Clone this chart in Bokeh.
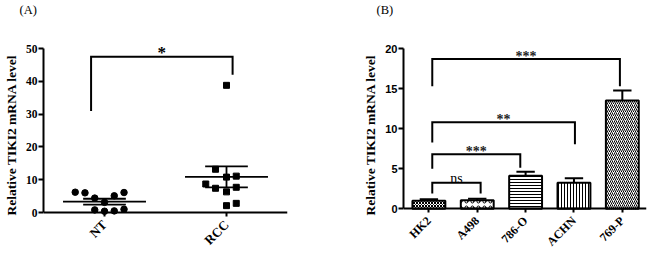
import numpy as np
from bokeh.plotting import figure
from bokeh.layouts import row
from bokeh.models import Range1d, FixedTicker, Title
from bokeh.core.properties import value
from bokeh.embed import file_html
from bokeh.resources import INLINE

# ---------------- Panel A data ----------------
groups_a = ["NT", "RCC"]
nt_values = [6.2, 6.0, 4.4, 3.1, 5.1, 6.1, 0.8, 0.4, 0.5, 1.0]
nt_jitter = [-0.24, -0.16, -0.08, 0.0, 0.08, 0.16, -0.08, 0.0, 0.08, 0.16]
rcc_values = [38.8, 13.2, 10.8, 11.1, 8.7, 7.4, 6.3, 7.7, 2.1, 2.8]
rcc_jitter = [0.0, -0.09, 0.0, 0.08, -0.17, -0.09, 0.0, 0.08, 0.0, 0.08]
group_means = [3.3, 10.9]
group_sems = [0.9, 3.2]
a_yticks = [0, 10, 20, 30, 40, 50]
# significance bracket (left x, right x, top, left bottom, right bottom, label)
a_bracket = (-0.11, 1.05, 47.5, 31.0, 42.0, "*")

# ---------------- Panel B data ----------------
cells_b = ["HK2", "A498", "786-O", "ACHN", "769-P"]
cell_means = [1.0, 1.05, 4.1, 3.25, 13.5]
cell_sems = [0.17, 0.2, 0.5, 0.55, 1.25]
b_yticks = [0, 5, 10, 15, 20]
cell_hatch = ["x", "o", "-", "|", "/"]
cell_hatch_scale = [3, 6, 3, 3, 4]
b_br_left = [0.07, 0.07, 0.07, 0.07]
b_br_right = [1.07, 1.89, 3.02, 3.95]
b_br_top = [3.25, 6.8, 10.8, 18.7]
b_br_lbot = [1.9, 5.0, 8.25, 15.3]
b_br_rbot = [1.9, 5.1, 8.05, 15.3]
b_br_labels = ["ns", "***", "**", "***"]

SERIF = "Liberation Serif"
SANS = "Liberation Sans"
YLABEL = "Relative TIKI2 mRNA level"


def style_axes(p, ytick_font, ytick_size, xtick_size, ymax_tick):
    p.grid.visible = False
    p.outline_line_color = None
    for ax in (p.xaxis[0], p.yaxis[0]):
        ax.axis_line_width = 2
        ax.axis_line_color = "black"
        ax.major_tick_line_width = 2
        ax.major_tick_line_color = "black"
        ax.major_tick_in = 0
        ax.minor_tick_line_color = None
        ax.major_label_text_color = "black"
        ax.axis_label_text_color = "black"
    p.yaxis[0].major_tick_out = 5
    p.yaxis[0].major_label_standoff = 1
    p.yaxis[0].major_label_text_font = ytick_font
    p.yaxis[0].major_label_text_font_size = ytick_size
    p.yaxis[0].major_label_text_font_style = "bold"
    p.yaxis[0].axis_label = YLABEL
    p.yaxis[0].axis_label_text_font = SERIF
    p.yaxis[0].axis_label_text_font_style = "bold"
    p.yaxis[0].axis_label_text_font_size = "13.5px"
    p.yaxis[0].axis_label_standoff = 4
    p.yaxis[0].bounds = (0, ymax_tick)
    # x axis drawn at y = 0 inside an extended frame
    p.xaxis[0].fixed_location = 0
    p.xaxis[0].major_tick_out = 4
    p.xaxis[0].major_label_orientation = np.pi / 4
    p.xaxis[0].major_label_text_font = SERIF
    p.xaxis[0].major_label_text_font_style = "bold"
    p.xaxis[0].major_label_text_font_size = xtick_size
    p.xaxis[0].major_label_standoff = 6


def add_panel_title(p, text, offset):
    t = Title(text=text, align="left", offset=offset, text_font=SERIF, text_color="black",
              text_font_style="normal", text_font_size="12.5px", standoff=0)
    p.add_layout(t, "above")


# ---------------- Panel A ----------------
# frame spans 16..253 px; y = 0 sits at 212 px, y = 50 at 48 px
pa = figure(width=325, height=253, x_range=Range1d(-0.5, 1.5), y_range=Range1d(-12.5, 59.8),
            output_backend="svg", toolbar_location=None,
            min_border_left=39, min_border_right=38, min_border_top=16, min_border_bottom=0)
style_axes(pa, SERIF, "11.5px", "13px", a_yticks[-1])
pa.yaxis[0].ticker = FixedTicker(ticks=a_yticks)
xa = list(range(len(groups_a)))
pa.xaxis[0].ticker = FixedTicker(ticks=xa)
pa.xaxis[0].major_label_overrides = {i: g for i, g in enumerate(groups_a)}
add_panel_title(pa, "(A)", -24)

pa.scatter([xa[0] + j for j in nt_jitter], nt_values, marker="circle", size=6.5,
           fill_color="black", line_color="black")
pa.scatter([xa[1] + j for j in rcc_jitter], rcc_values, marker="square", size=6,
           fill_color="black", line_color="black")
# mean lines and SEM
for i, (m, s) in enumerate(zip(group_means, group_sems)):
    pa.segment(x0=[xa[i] - 0.34], y0=[m], x1=[xa[i] + 0.34], y1=[m], line_color="black", line_width=1.8)
    pa.segment(x0=[xa[i] - 0.175, xa[i] - 0.175, xa[i]], y0=[m + s, m - s, m - s],
               x1=[xa[i] + 0.175, xa[i] + 0.175, xa[i]], y1=[m + s, m - s, m + s],
               line_color="black", line_width=1.8)
bl, br, bt, blb, brb, blab = a_bracket
pa.line([bl, bl, br, br], [blb, bt, bt, brb], line_color="black", line_width=2, line_join="miter")
pa.text(x=[(bl + br) / 2], y=[bt], text=[blab], text_align="center", text_baseline="bottom",
        text_font=value(SERIF), text_font_style="bold", text_font_size="17px",
        text_color="black", y_offset=5)

# ---------------- Panel B ----------------
# frame spans 16..253 px; y = 0 sits at 208 px, y = 20 at 48 px
pb = figure(width=325, height=253, x_range=Range1d(-0.525, 4.5), y_range=Range1d(-5.6, 24.0),
            output_backend="svg", toolbar_location=None,
            min_border_left=78, min_border_right=4, min_border_top=16, min_border_bottom=0)
style_axes(pb, SANS, "11px", "12px", b_yticks[-1])
pb.yaxis[0].ticker = FixedTicker(ticks=b_yticks)
xb = list(range(len(cells_b)))
pb.xaxis[0].ticker = FixedTicker(ticks=xb)
pb.xaxis[0].major_label_overrides = {i: c for i, c in enumerate(cells_b)}
add_panel_title(pb, "(B)", -27)

for i in xb:
    pb.vbar(x=[xb[i]], top=[cell_means[i]], bottom=0, width=0.68, fill_color="white",
            line_color="black", line_width=2, hatch_pattern=cell_hatch[i],
            hatch_scale=cell_hatch_scale[i], hatch_weight=1, hatch_color="black")
tops = [m + s for m, s in zip(cell_means, cell_sems)]
pb.segment(x0=xb, y0=cell_means, x1=xb, y1=tops, line_color="black", line_width=2)
pb.segment(x0=[x - 0.19 for x in xb], y0=tops, x1=[x + 0.19 for x in xb], y1=tops,
           line_color="black", line_width=2)
for l, r, t, lb, rb, lab in zip(b_br_left, b_br_right, b_br_top, b_br_lbot, b_br_rbot, b_br_labels):
    pb.line([l, l, r, r], [lb, t, t, rb], line_color="black", line_width=2, line_join="miter")
    if lab == "ns":
        pb.text(x=[(l + r) / 2], y=[t], text=[lab], text_align="center", text_baseline="alphabetic",
                text_font=value(SERIF), text_font_size="14px", text_color="black", y_offset=-4)
    else:
        pb.text(x=[(l + r) / 2], y=[t], text=[lab], text_align="center", text_baseline="bottom",
                text_font=value(SERIF), text_font_style="bold", text_font_size="14px",
                text_color="#222222", y_offset=5)

layout = row(pa, pb)
open("out.html", "w").write(file_html(layout, INLINE))
